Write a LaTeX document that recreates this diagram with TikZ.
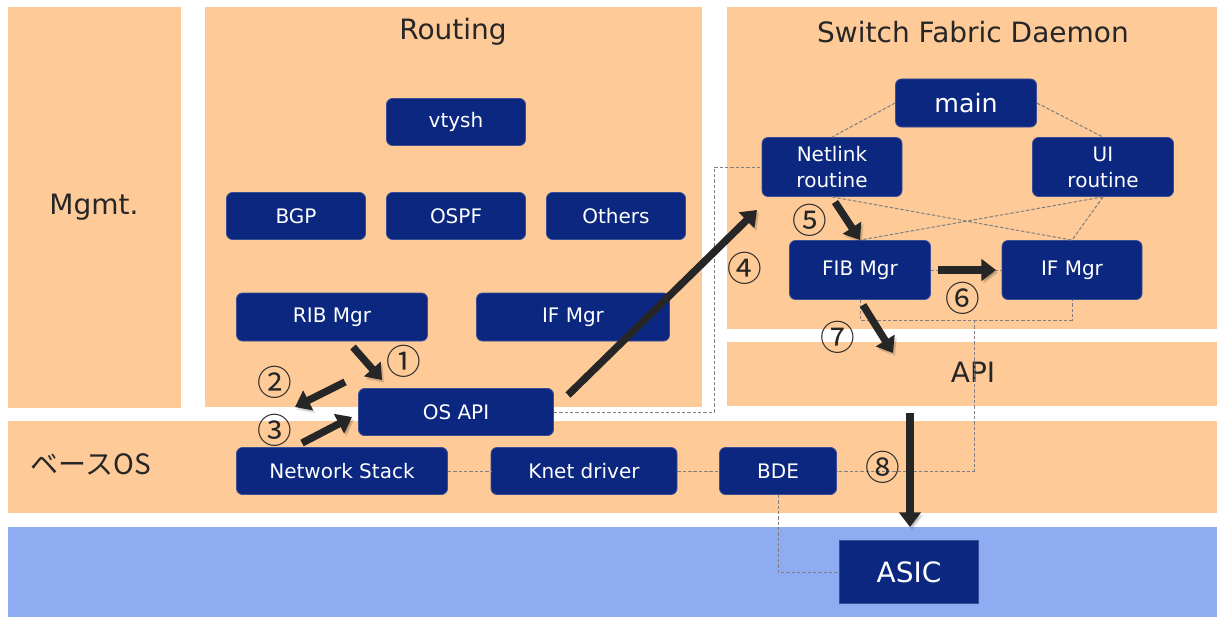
\documentclass[tikz,border=0pt]{standalone}
\usepackage{fontspec}
\setmainfont{DejaVu Sans}
\newfontfamily\jpfont{Noto Sans CJK JP}
\usetikzlibrary{arrows.meta,calc}

\definecolor{peach}{HTML}{FDCA98}
\definecolor{asicblue}{HTML}{8FABF2}
\definecolor{navy}{HTML}{0B2780}
\definecolor{navyedge}{HTML}{3A4E96}
\definecolor{ink}{HTML}{262626}
\definecolor{dashgray}{HTML}{7F7F7F}

\tikzset{
  x=0.75pt, y=-0.75pt,
  panel/.style={fill=peach, draw=none},
  bw/.style={minimum width={#1*0.75pt}},
  bh/.style={minimum height={#1*0.75pt}},
  box/.style={fill=navy, draw=navyedge, line width=0.6pt, rounded corners=4.5pt,
    text=white, inner sep=0pt, align=center,
    font=\fontsize{15}{19.5}\selectfont},
  title/.style={text=ink, font=\fontsize{21}{24}\selectfont},
  link/.style={draw=dashgray, dashed, dash pattern=on 2.6pt off 1.4pt, line width=0.75pt},
  flow/.style={draw=ink, line width=5.5pt,
    -{Triangle[length=11pt,width=16pt]},
    preaction={draw=black, opacity=0.15, transform canvas={shift={(1.5pt,-2pt)}}}},
  num/.style={text=ink, font=\jpfont\fontsize{26}{28}\selectfont, inner sep=0pt},
}

\begin{document}
\begin{tikzpicture}
\useasboundingbox (0,0) rectangle (1217,617);

% ---- background panels
\fill[panel] (8,7) rectangle (181,408);
\fill[panel] (205,7) rectangle (702,407);
\fill[panel] (727,7) rectangle (1217,329);
\fill[panel] (727,342) rectangle (1217,406);
\fill[panel] (8,421) rectangle (1217,513);
\fill[asicblue] (8,527) rectangle (1217,617);

% ---- panel titles
\node[title] (tmgmt) at (94,207) {Mgmt.};
\node[title] (trouting) at (453,32) {Routing};
\node[title] (tsfd) at (973,32) {Switch Fabric Daemon};
\node[title] (tapi) at (973,372) {API};
\node[title, font=\jpfont\fontsize{21}{24}\selectfont] (tbase) at (91,464) {ベースOS};

% ---- routing stack
\node[box, bw=139, bh=47] (vtysh) at (456,122) {vtysh};
\node[box, bw=139, bh=47] (bgp) at (296,216) {BGP};
\node[box, bw=139, bh=47] (ospf) at (456,216) {OSPF};
\node[box, bw=139, bh=47] (others) at (616,216) {Others};
\node[box, bw=191, bh=48] (rib) at (332,317) {RIB Mgr};
\node[box, bw=193, bh=48] (rifm) at (573,317) {IF Mgr};
\node[box, bw=195, bh=47] (osapi) at (456,412) {OS API};

% ---- base OS
\node[box, bw=211, bh=47] (netstack) at (342,471) {Network Stack};
\node[box, bw=186, bh=47] (knet) at (584,471) {Knet driver};
\node[box, bw=117, bh=47] (bde) at (778,471) {BDE};

% ---- switch fabric daemon
\node[box, bw=141, bh=48, font=\fontsize{19}{22}\selectfont] (main) at (966,103) {main};
\node[box, bw=140, bh=59] (netlink) at (832,167) {Netlink\\routine};
\node[box, bw=141, bh=59] (ui) at (1103,167) {UI\\routine};
\node[box, bw=141, bh=59] (fib) at (860,270) {FIB Mgr};
\node[box, bw=140, bh=59] (sifm) at (1072,270) {IF Mgr};

% ---- hardware
\node[box, rounded corners=0pt, bw=139, bh=63, font=\fontsize{21}{24}\selectfont] (asic) at (909,572) {ASIC};

% ---- dashed relations
\coordinate (jfib) at (974,320);
\coordinate (jnl) at (714,167);
\draw[link] (main.west) -- (netlink.north);
\draw[link] (main.east) -- (ui.north);
\draw[link] (netlink.south) -- (sifm.north);
\draw[link] (ui.south) -- (fib.north);
\draw[link] (ui.south) -- (sifm.north);
\draw[link] (fib.east) -- (sifm.west);
\draw[link] (fib.south) |- (jfib) -| (sifm.south);
\draw[link] (jfib) |- (bde.east);
\draw[link] (osapi.east) -| (jnl) -- (netlink.west);
\draw[link] (netstack.east) -- (knet.west);
\draw[link] (knet.east) -- (bde.west);
\draw[link] (bde.south) |- (asic.west);

% ---- numbered flow
\coordinate (a1s) at (353,347); \coordinate (a1e) at (382,380);
\coordinate (a2s) at (345,382); \coordinate (a2e) at (295,407);
\coordinate (a3s) at (302,443); \coordinate (a3e) at (352,417);
\coordinate (a4s) at (568,395); \coordinate (a4e) at (757,210);
\coordinate (a5s) at (835,202); \coordinate (a5e) at (860,240);
\coordinate (a6s) at (938,270); \coordinate (a6e) at (996,270);
\coordinate (a7s) at (863,305); \coordinate (a7e) at (893,353);
\coordinate (a8s) at (910,413); \coordinate (a8e) at (910,527);
\draw[flow] (a1s) -- (a1e);
\draw[flow] (a2s) -- (a2e);
\draw[flow] (a3s) -- (a3e);
\draw[flow] (a4s) -- (a4e);
\draw[flow] (a5s) -- (a5e);
\draw[flow] (a6s) -- (a6e);
\draw[flow] (a7s) -- (a7e);
\draw[flow] (a8s) -- (a8e);

\node[num] (n1) at (404,361) {①};
\node[num] (n2) at (275,382) {②};
\node[num] (n3) at (275,430) {③};
\node[num] (n4) at (745,268) {④};
\node[num] (n5) at (810,220) {⑤};
\node[num] (n6) at (963,298) {⑥};
\node[num] (n7) at (838,337) {⑦};
\node[num] (n8) at (883,467) {⑧};
\end{tikzpicture}
\end{document}
